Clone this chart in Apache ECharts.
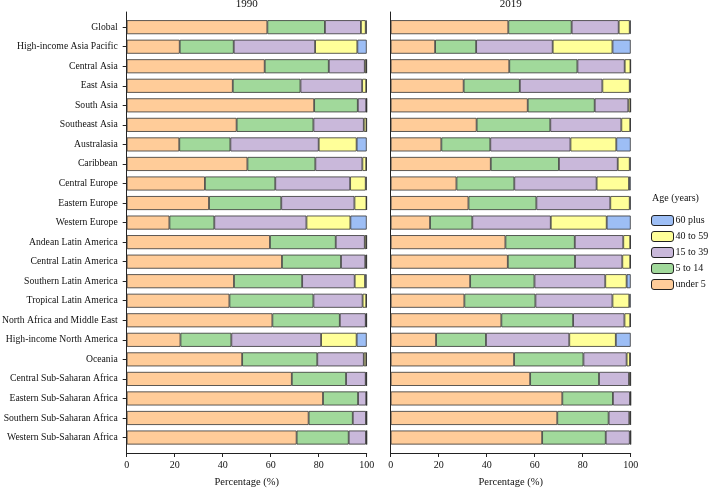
<!DOCTYPE html>
<html><head><meta charset="utf-8">
<script src="https://cdn.jsdelivr.net/npm/echarts@6/dist/echarts.min.js"></script>
<style>html,body{margin:0;padding:0;background:#fff}#c{width:708px;height:489px}</style>
</head><body><div id="c"></div>
<script>
const regions = ["Global","High-income Asia Pacific","Central Asia","East Asia","South Asia","Southeast Asia","Australasia","Caribbean","Central Europe","Eastern Europe","Western Europe","Andean Latin America","Central Latin America","Southern Latin America","Tropical Latin America","North Africa and Middle East","High-income North America","Oceania","Central Sub-Saharan Africa","Eastern Sub-Saharan Africa","Southern Sub-Saharan Africa","Western Sub-Saharan Africa"];
const ageGroups = ["under 5","5 to 14","15 to 39","40 to 59","60 plus"];
const xTicks = [0,20,40,60,80,100];
const panelTitles = ["1990","2019"];

const y1990_under5 = [58.6,22.1,57.5,44.2,78.1,45.8,21.9,50.3,32.6,34.3,17.8,59.7,64.7,44.7,42.8,60.7,22.4,48.1,68.8,81.8,75.8,70.8];
const y1990_5to14  = [24.0,22.5,26.7,28.2,18.2,32.0,21.3,28.3,29.3,30.1,18.7,27.4,24.6,28.4,35.0,28.1,21.2,31.3,22.6,14.6,18.4,21.7];
const y1990_15to39 = [15.0,33.9,15.0,25.7,3.5,21.0,36.8,19.6,31.2,30.5,38.4,12.1,10.1,21.9,20.5,10.8,37.4,19.4,8.2,3.4,5.5,7.2];
const y1990_40to59 = [2.0,17.6,0.7,1.7,0.2,1.1,15.8,1.6,6.5,5.0,18.3,0.7,0.5,4.3,1.5,0.3,14.8,1.0,0.3,0.2,0.3,0.3];
const y1990_60plus = [0.4,3.9,0.1,0.2,0.0,0.1,4.2,0.2,0.4,0.1,6.8,0.1,0.1,0.7,0.2,0.1,4.2,0.2,0.1,0.0,0.0,0.0];

const y2019_under5 = [49.0,18.5,49.4,30.4,57.1,35.8,21.1,41.7,27.4,32.4,16.4,47.8,48.8,33.1,30.7,46.1,18.9,51.4,58.1,71.5,69.4,63.1];
const y2019_5to14  = [26.4,17.1,28.4,23.4,27.9,30.7,20.4,28.4,24.1,28.3,17.6,28.9,28.0,26.8,29.6,29.9,20.8,28.9,28.7,21.1,21.4,26.5];
const y2019_15to39 = [19.6,31.9,19.7,34.4,14.0,29.6,33.4,24.5,34.3,30.8,32.7,20.2,19.7,29.5,32.1,21.4,34.7,18.0,12.5,7.1,8.6,10.0];
const y2019_40to59 = [4.6,24.9,2.4,11.4,0.9,3.7,19.1,5.0,13.5,8.1,23.3,2.9,3.3,8.9,7.0,2.4,19.4,1.4,0.6,0.3,0.5,0.4];
const y2019_60plus = [0.4,7.6,0.1,0.4,0.1,0.2,6.0,0.4,0.7,0.4,10.0,0.2,0.2,1.7,0.6,0.2,6.2,0.3,0.1,0.0,0.1,0.0];

const colors = {"under 5":"#FFCC99","5 to 14":"#A1D99B","15 to 39":"#C9B8DA","40 to 59":"#FFFF99","60 plus":"#9DBEF5"};
const data1990 = [y1990_under5,y1990_5to14,y1990_15to39,y1990_40to59,y1990_60plus];
const data2019 = [y2019_under5,y2019_5to14,y2019_15to39,y2019_40to59,y2019_60plus];

const FONT = "Liberation Serif";
const lefts = [126.7, 390.7];
const W = 240;
const innerTop = 17.4, innerH = 429.9;
const outerTop = 12, outerH = 441;

const grids = [], xAxes = [], yAxes = [], series = [];
lefts.forEach((l, p) => {
  grids.push({left:l, width:W, top:innerTop, height:innerH, containLabel:false, outerBoundsMode:'none'});
  grids.push({left:l, width:W, top:outerTop, height:outerH, containLabel:false, outerBoundsMode:'none'});
  const gi = p*2, go = p*2+1;
  xAxes.push({gridIndex:gi, type:'value', min:0, max:100, show:false});
  xAxes.push({gridIndex:go, type:'value', min:0, max:100, interval:20,
    name:'Percentage (%)', nameLocation:'middle', nameGap:24,
    nameTextStyle:{fontFamily:FONT, fontSize:10.5, color:'#111'},
    axisLine:{show:true, lineStyle:{color:'#222', width:1}},
    axisTick:{show:true, length:4, lineStyle:{color:'#222'}},
    axisLabel:{fontFamily:FONT, fontSize:10, color:'#111', margin:7},
    splitLine:{show:false}});
  yAxes.push({gridIndex:gi, type:'category', data:regions, inverse:true,
    axisLine:{show:false},
    axisTick:{show:p===0, length:4, alignWithLabel:true, lineStyle:{color:'#222'}},
    axisLabel:{show:p===0, fontFamily:FONT, fontSize:9.7, color:'#111', margin:9}});
  yAxes.push({gridIndex:go, type:'value', min:0, max:1,
    axisLine:{show:true, lineStyle:{color:'#222', width:1}},
    axisTick:{show:false}, axisLabel:{show:false}, splitLine:{show:false}});
  const dat = p===0 ? data1990 : data2019;
  ageGroups.forEach((g, k) => {
    series.push({type:'bar', name:g, stack:'p'+p, xAxisIndex:gi, yAxisIndex:gi,
      data:dat[k], barWidth:14,
      itemStyle:{color:colors[g], borderColor:'#333', borderWidth:0.8},
      emphasis:{disabled:true}, animation:false});
  });
});

const chart = echarts.init(document.getElementById('c'), null, {renderer:'canvas'});
chart.setOption({
  animation:false,
  title:[
    {text:panelTitles[0], left:lefts[0]+W/2, top:-1, padding:0, textAlign:'center', textStyle:{fontFamily:FONT, fontSize:11, fontWeight:'normal', color:'#111'}},
    {text:panelTitles[1], left:lefts[1]+W/2, top:-1, padding:0, textAlign:'center', textStyle:{fontFamily:FONT, fontSize:11, fontWeight:'normal', color:'#111'}},
    {text:'Age (years)', left:652, top:193, padding:0, textStyle:{fontFamily:FONT, fontSize:10, fontWeight:'normal', color:'#111'}}
  ],
  legend:{orient:'vertical', left:651, top:215, padding:0, itemWidth:22, itemHeight:10, itemGap:5,
    data:ageGroups.slice().reverse(), selectedMode:false,
    itemStyle:{borderColor:'#222', borderWidth:1},
    textStyle:{fontFamily:FONT, fontSize:10, color:'#111', padding:[0,0,0,-3]}},
  grid:grids, xAxis:xAxes, yAxis:yAxes, series:series
});
</script></body></html>
